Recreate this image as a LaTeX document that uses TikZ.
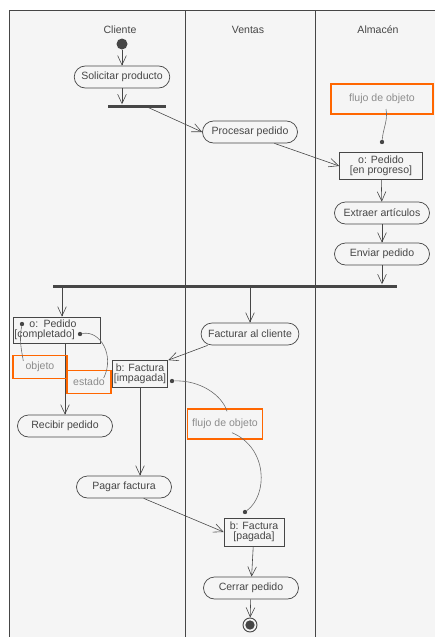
\documentclass[tikz,border=0pt]{standalone}
\usepackage{fontspec}
\setmainfont{Liberation Sans}
\usetikzlibrary{arrows.meta,calc}

\definecolor{nota}{RGB}{255,102,0}
\definecolor{tinta}{RGB}{70,70,70}

\begin{document}
\begin{tikzpicture}[
    x=0.03cm, y=-0.03cm,
    font=\fontsize{9}{10}\selectfont,
    every node/.style={text=tinta},
    accion/.style={rectangle, rounded corners=0.33cm, draw=tinta, line width=0.6pt, minimum width=2.85cm, minimum height=0.66cm, inner xsep=6pt},
    objbox/.style={rectangle, draw=tinta, line width=0.6pt, align=center, inner sep=1.5pt, font=\fontsize{9}{8.5}\selectfont},
    barra/.style={rectangle, fill=tinta, inner sep=0pt, minimum height=0.09cm},
    punto/.style={circle, fill=tinta, inner sep=0pt, minimum size=0.13cm},
    marca/.style={rectangle, draw=nota, line width=1.2pt, text=black!45},
    carril/.style={draw=tinta, line width=0.6pt},
    flujo/.style={-{Straight Barb[length=2.8mm,width=2.6mm]}, draw=tinta, line width=0.5pt},
    enlace/.style={draw=tinta!80, line width=0.5pt}
]
\useasboundingbox (0,0) rectangle (435,637);

% Swimlanes
\fill[black!4] (9,10) rectangle (435,637);
\draw[carril] (9,637) -- (9,10) -- (435,10);
\draw[carril] (185,10) -- (185,637);
\draw[carril] (315,10) -- (315,637);
\node (cliente) at (120,30) {Cliente};
\node (ventas) at (248,30) {Ventas};
\node (almacen) at (378,30) {Almacén};

% Actions and objects
\node[circle, fill=tinta, minimum size=0.33cm, inner sep=0pt] (inicio) at (122,44) {};
\node[accion] (solicitar) at (122,77) {Solicitar producto};
\node[barra, minimum width=1.74cm] (bifurca) at (137,106) {};
\node[accion] (procesar) at (250,132) {Procesar pedido};
\node[objbox, minimum width=2.49cm, minimum height=0.81cm] (enprogreso) at (381,166) {o: Pedido\\{}[en progreso]};
\node[accion] (extraer) at (382,213) {Extraer artículos};
\node[accion] (enviar) at (382,254) {Enviar pedido};
\node[barra, minimum width=10.32cm] (une) at (225,286) {};
\node[objbox, minimum height=0.78cm, text width=2.55cm, inner xsep=1pt, align=left] (completado) at (57,330) {\hspace*{0.45cm}o: Pedido\\{}[completado]};
\node[accion] (facturar) at (250,334) {Facturar al cliente};
\node[objbox, minimum width=1.56cm, minimum height=0.81cm] (impagada) at (140,374) {b: Factura\\{}[impagada]};
\node[accion] (recibir) at (65,426) {Recibir pedido};
\node[accion] (pagar) at (124,487) {Pagar factura};
\node[objbox, minimum width=1.8cm, minimum height=0.84cm] (pagada) at (254,532) {b: Factura\\{}[pagada]};
\node[accion] (cerrar) at (251,588) {Cerrar pedido};
\node[circle, draw=tinta, line width=0.8pt, minimum size=0.42cm, inner sep=0pt] (fin) at (250,625) {};
\fill[tinta] (fin) circle (0.14cm);

% Control flow
\draw[flujo] (inicio) -- (solicitar);
\draw[flujo] (solicitar) -- (solicitar |- bifurca.north);
\draw[flujo] ($(bifurca.center)+(8,0)$) -- (procesar.west);
\draw[flujo] (procesar.-25) -- (enprogreso.west);
\draw[flujo] (enprogreso) -- (extraer);
\draw[flujo] (extraer) -- (enviar);
\draw[flujo] (enviar) -- (enviar |- une.north);
\draw[flujo] ($(une.south -| completado.north)+(5,0)$) -- ($(completado.north)+(5,0)$);
\draw[flujo] (une.south -| facturar.north) -- (facturar.north);
\draw[flujo] (facturar.195) -- (impagada.north east);
\draw[flujo] (recibir.north |- completado.south) -- (recibir.north);
\draw[flujo] (impagada.south) -- (impagada.south |- pagar.north);
\draw[flujo] (pagar.-30) -- (pagada.west);
\draw[flujo] (pagada) -- (cerrar);
\draw[flujo] (cerrar) -- (fin);

% Notes
\node[marca, minimum width=3.06cm, minimum height=0.9cm] (notaflujo1) at (382,99) {flujo de objeto};
\node[punto] (p1) at (382,142) {};
\draw[enlace] ($(notaflujo1.center)+(4,10)$) to[out=-80,in=85] (p1);

\node[marca, minimum width=1.62cm, minimum height=0.69cm] (notaobjeto) at (40,367) {objeto};
\node[punto] (p2) at (22,324) {};
\draw[enlace] (p2) to[out=-100,in=100] ($(notaobjeto.north west)+(11,6)$);

\node[marca, minimum width=1.32cm, minimum height=0.69cm] (notaestado) at (89,382) {estado};
\node[punto] (p3) at (80,334) {};
\draw[enlace] (p3) .. controls (100,330) and (115,355) .. ($(notaestado.east)+(-8,-4)$);

\node[marca, minimum width=2.25cm, minimum height=0.9cm] (notaflujo2) at (225,424) {flujo de objeto};
\node[punto] (p4) at (172,381) {};
\draw[enlace] (p4) .. controls (200,380) and (222,395) .. ($(notaflujo2.north)+(2,3)$);
\node[punto] (p5) at (245,512) {};
\draw[enlace] ($(notaflujo2.south)+(7,-7)$) .. controls (268,448) and (268,495) .. (p5);

\end{tikzpicture}
\end{document}
